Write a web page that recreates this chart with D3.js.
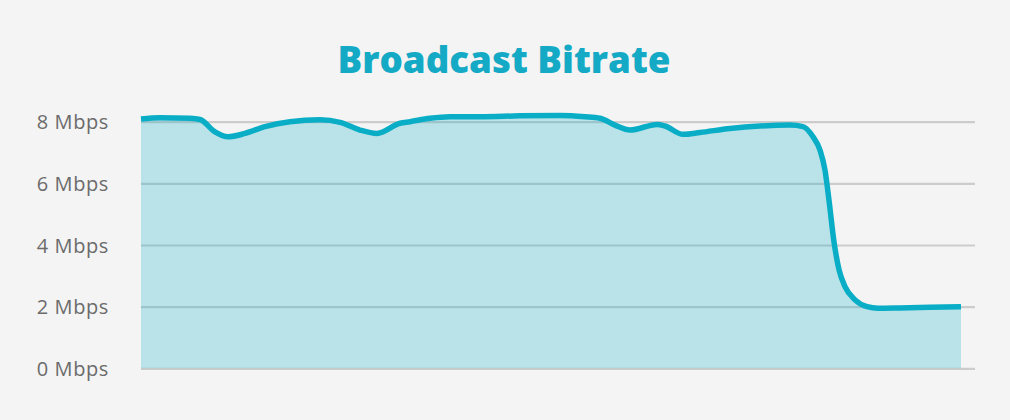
<!DOCTYPE html>
<html>
<head>
<meta charset="utf-8">
<script src="https://cdn.jsdelivr.net/npm/d3@7"></script>
<style>
  html, body { margin: 0; padding: 0; background: #f4f4f4; }
  svg { display: block; }
  .tick-label { font-family: "Open Sans", sans-serif; fill: #6b6b6b; }
</style>
</head>
<body>
<script>
"use strict";

// seconds into the stream (x has no labels in the original)
var times = [0, 19, 49, 59, 74, 87, 104, 124, 149, 179, 199, 219, 236, 259, 269, 289,
  309, 339, 379, 419, 444, 459, 474, 489, 516, 524, 542, 559, 589, 619, 649, 662,
  672, 679, 684, 688, 693, 698, 704, 714, 726, 737, 759, 789, 820];

// bitrate in Mbps
var bitrate = [8.09, 8.13, 8.11, 8.07, 7.67, 7.51, 7.62, 7.84, 8.0, 8.06, 7.98, 7.73, 7.62, 7.95, 8.0, 8.11,
  8.16, 8.16, 8.19, 8.2, 8.16, 8.11, 7.89, 7.73, 7.91, 7.86, 7.59, 7.65, 7.78, 7.86, 7.89, 7.84,
  7.51, 7.08, 6.43, 5.45, 4.1, 3.2, 2.65, 2.22, 2.0, 1.95, 1.96, 1.98, 2.0];

var yTicks = [0, 2, 4, 6, 8];
var tickUnit = " Mbps";
var title = "Broadcast Bitrate";

var width = 1010;
var height = 420;

var margin = { top: 121.7, left: 141, right: 35, bottom: 51.7, dataRight: 961 };

var points = times.map(function(t, i) { return { t: t, v: bitrate[i] }; });

var xScale = d3.scaleLinear()
  .domain([0, d3.max(times)])
  .range([margin.left, margin.dataRight]);

var yScale = d3.scaleLinear()
  .domain([0, 8])
  .range([height - margin.bottom, margin.top]);

var svg = d3.select("body").append("svg")
  .attr("width", width)
  .attr("height", height);

svg.append("rect")
  .attr("width", width)
  .attr("height", height)
  .attr("fill", "#f4f4f4");

// gridlines
var yAxis = svg.append("g")
  .attr("transform", "translate(" + margin.left + ",0)")
  .call(d3.axisLeft(yScale)
    .tickValues(yTicks)
    .tickSize(-(width - margin.right - margin.left))
    .tickFormat(function(d) { return d + tickUnit; }));

yAxis.select(".domain").remove();
yAxis.selectAll(".tick line")
  .attr("stroke", "#cccccc")
  .attr("stroke-width", 2.2);
yAxis.selectAll(".tick text")
  .attr("class", "tick-label")
  .attr("x", -32)
  .attr("dy", "0.35em")
  .style("font-size", "20px")
  .style("letter-spacing", "0.6px")
  .style("text-anchor", "end");

var curve = d3.curveMonotoneX;

var area = d3.area()
  .x(function(d) { return xScale(d.t); })
  .y0(yScale(0))
  .y1(function(d) { return yScale(d.v); })
  .curve(curve);

var line = d3.line()
  .x(function(d) { return xScale(d.t); })
  .y(function(d) { return yScale(d.v); })
  .curve(curve);

svg.append("path")
  .datum(points)
  .attr("d", area)
  .attr("fill", "#0aaec6")
  .attr("fill-opacity", 0.25);

svg.append("path")
  .datum(points)
  .attr("d", line)
  .attr("fill", "none")
  .attr("stroke", "#0aadc6")
  .attr("stroke-width", 5.5)
  .attr("stroke-linejoin", "round");

var titleText = svg.append("text")
  .attr("x", 504)
  .attr("y", 72.5)
  .attr("text-anchor", "middle")
  .attr("fill", "#14a9c4")
  .style("font-family", "'Open Sans', sans-serif")
  .style("font-weight", 800)
  .style("font-size", "33px")
  .text(title);

// stretch to the width of the original title
var tw = titleText.node().getComputedTextLength();
titleText.style("font-size", (33 * 333 / tw) + "px");
</script>
</body>
</html>
